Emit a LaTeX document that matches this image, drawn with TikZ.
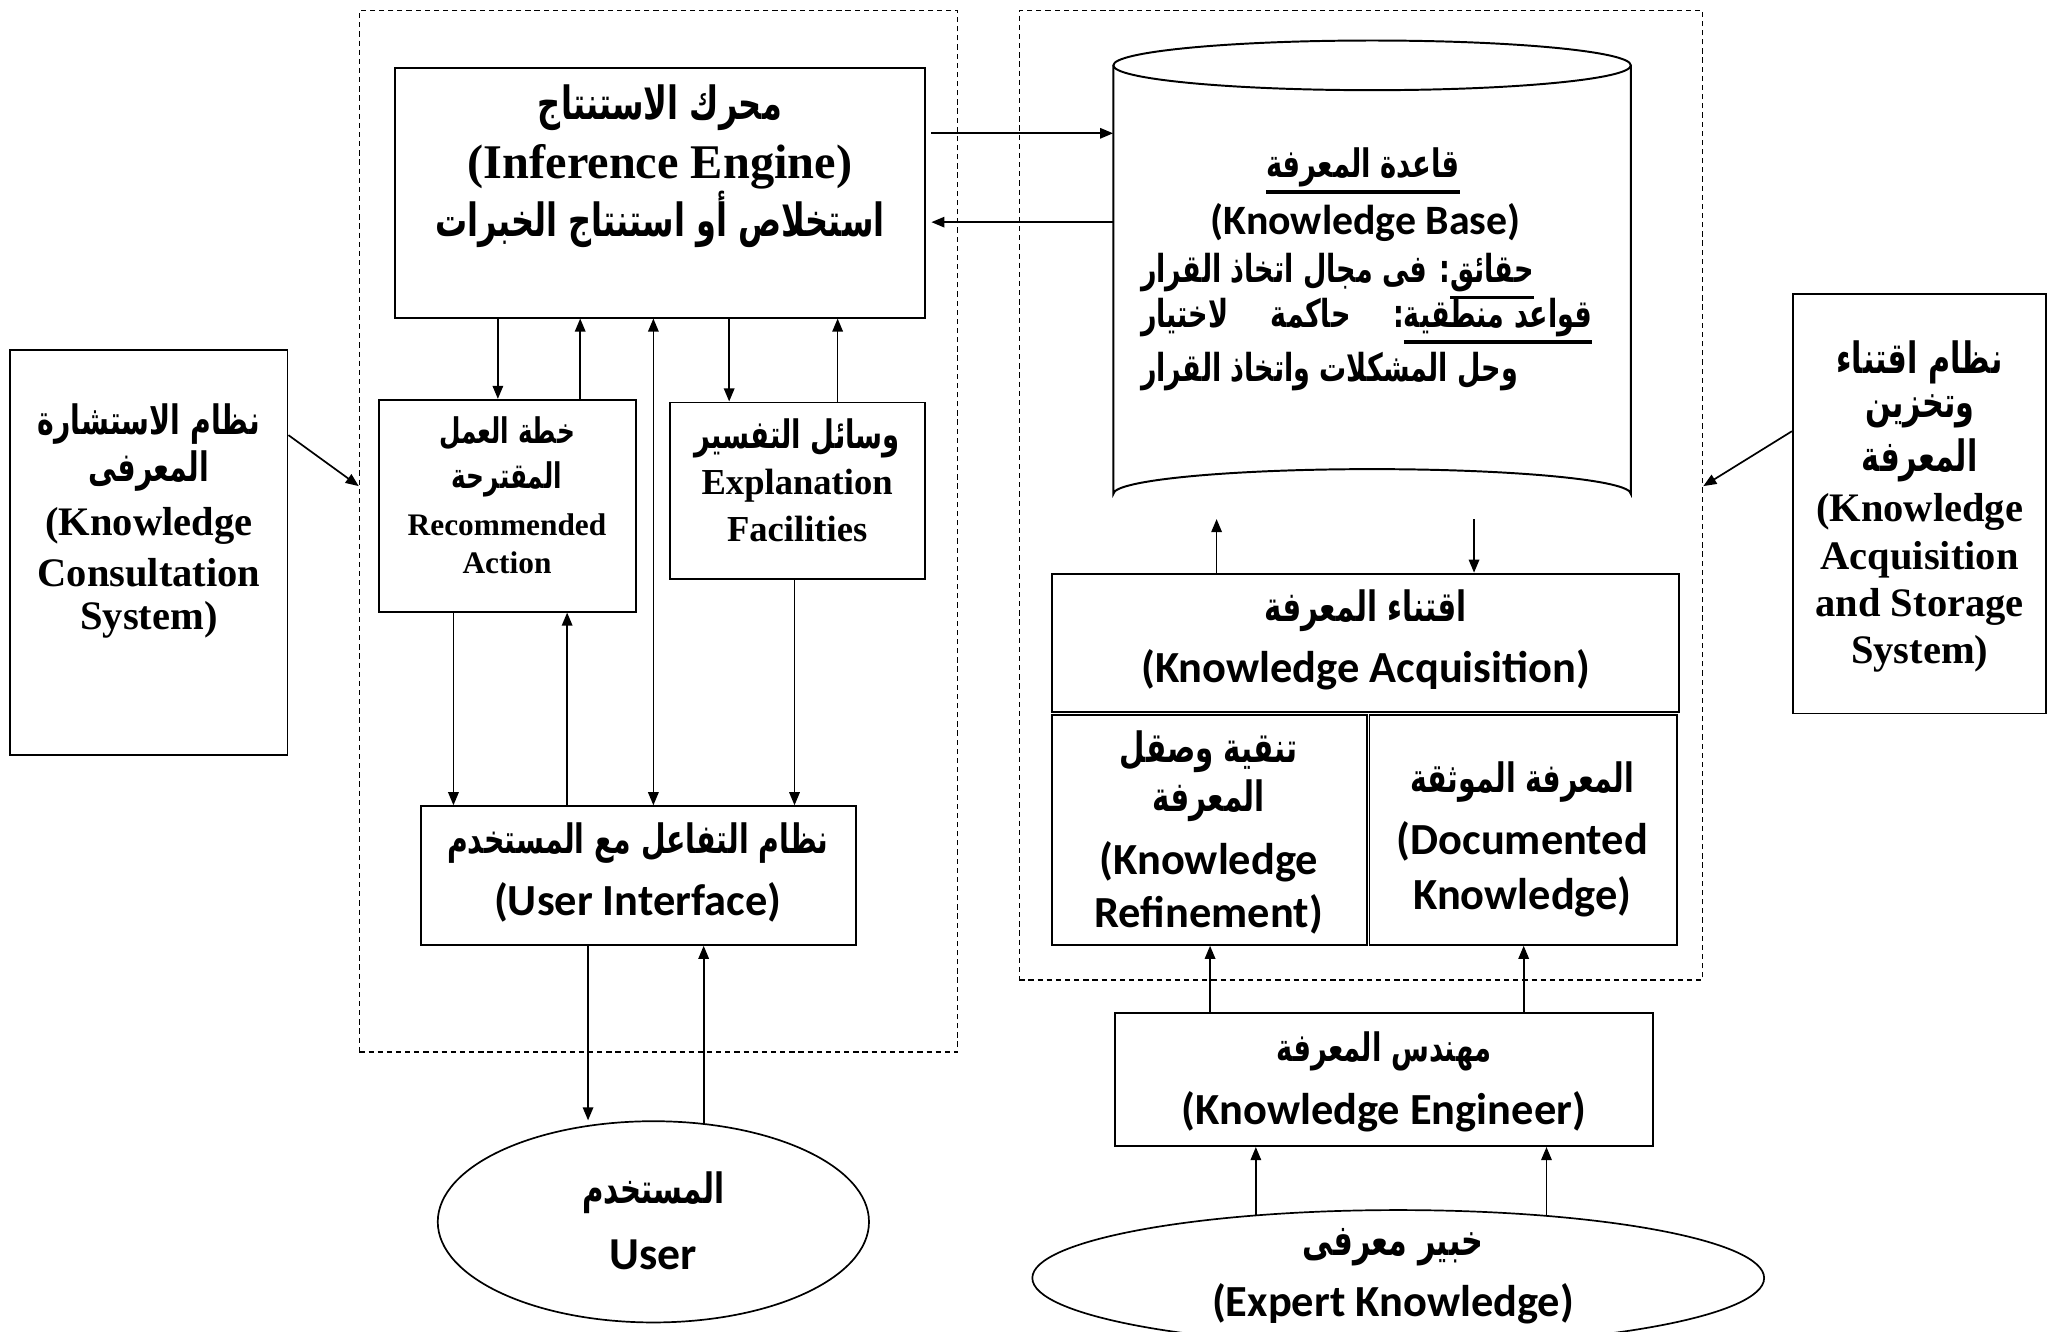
\documentclass[tikz,border=0pt]{standalone}
\usepackage{fontspec}
\setmainfont{Liberation Serif}
\newfontfamily\calfont{Carlito}
\newfontfamily\arfont[Script=Arabic, FakeStretch=0.7]{DejaVu Sans}
\TeXXeTstate=1
\usetikzlibrary{arrows.meta,fit,shapes.geometric}
% underlined Arabic words
\newcommand\arul[1]{\vtop{\hbox{\beginR#1\endR}\kern2.5bp\hrule height 2.8bp}}
\tikzset{
  box/.style={draw, line width=1.5bp, inner sep=0pt, fit={#1}},
  dbox/.style={draw, line width=0.9bp, dash pattern=on 4bp off 3bp, inner sep=0pt, fit={#1}},
  oval/.style={draw, ellipse, line width=1.3bp, inner sep=0pt},
  arr/.style={line width=1.3bp, -{Triangle[length=10bp,width=8bp]}},
  darr/.style={line width=1.3bp, {Triangle[length=10bp,width=8bp]}-{Triangle[length=10bp,width=8bp]}},
  artxt/.style={font=\arfont\bfseries\fontsize{#1bp}{#1bp}\selectfont, inner sep=0pt, yshift=-2.5bp},
  rmtxt/.style={font=\bfseries\fontsize{#1bp}{#1bp}\selectfont, inner sep=0pt, yshift=-2.5bp},
  sftxt/.style={font=\calfont\bfseries\fontsize{#1bp}{#1bp}\selectfont, inner sep=0pt, yshift=-2.5bp},
}
\begin{document}
\begin{tikzpicture}[x=1bp, y=-1bp]
\useasboundingbox (0,0) rectangle (1568,1019);
\clip (0,0) rectangle (1568,1019);
\fill[white] (0,0) rectangle (1568,1019);

% ---------- dashed system frames ----------
\node[dbox={(275,8)(733,805)}] (ld) {};
\node[dbox={(780,8)(1303,750)}] (rd) {};

% ---------- consultation side ----------
\node[box={(302,52)(708,243)}] (ie) {};
\node[artxt=35] (ie1) at (505,80) {\beginR محرك الاستنتاج\endR};
\node[rmtxt=37] (ie2) at (505,125) {(Inference Engine)};
\node[artxt=35] (ie3) at (505,165) {\beginR استخلاص أو استنتاج الخبرات\endR};

\node[box={(290,306)(487,468)}] (ra) {};
\node[artxt=27] (ra1) at (388,329) {\beginR خطة العمل\endR};
\node[artxt=27] (ra2) at (388,364) {\beginR المقترحة\endR};
\node[rmtxt=24] (ra3) at (388,399) {Recommended};
\node[rmtxt=24] (ra4) at (388,428) {Action};

\node[box={(513,308)(708,443)}] (ef) {};
\node[artxt=30] (ef1) at (610,333) {\beginR وسائل التفسير\endR};
\node[rmtxt=28] (ef2) at (610,369) {Explanation};
\node[rmtxt=28] (ef3) at (610,402) {Facilities};

\node[box={(322,617)(655,723)}] (ui) {};
\node[artxt=31] (ui1) at (488,643) {\beginR نظام التفاعل مع المستخدم\endR};
\node[sftxt=34] (ui2) at (488,688) {(User Interface)};

\node[oval, minimum width=330bp, minimum height=154bp] (user) at (500,935) {};
\node[artxt=32] (us1) at (500,910) {\beginR المستخدم\endR};
\node[sftxt=35] (us2) at (500,958) {User};

\node[box={(8,268)(220,578)}] (kcs) {};
\node[artxt=31] (kc1) at (114,322) {\beginR نظام الاستشارة\endR};
\node[artxt=31] (kc2) at (114,358) {\beginR المعرفى\endR};
\node[rmtxt=31] (kc3) at (114,400) {(Knowledge};
\node[rmtxt=31] (kc4) at (114,436) {Consultation};
\node[rmtxt=31] (kc5) at (114,472) {System)};

% ---------- acquisition side ----------
\draw[line width=1.5bp] (852,50) -- (852,378) arc[start angle=180, end angle=360, x radius=198, y radius=19]
  -- (1248,50);
\draw[line width=1.5bp] (1050,50) ellipse[x radius=198, y radius=19];
\node[inner sep=0pt, fit={(852,31)(1248,397)}] (kb) {};
\node[artxt=30] (kb1) at (1043,128) {\beginR\arul{قاعدة المعرفة}\endR};
\node[sftxt=32] (kb2) at (1045,168) {(Knowledge Base)};
\node[artxt=29.5, anchor=west] (kb3) at (873,209) {\beginR\arul{حقائق}: فى مجال اتخاذ القرار\endR};
\node[artxt=29.5, anchor=west] (kb4) at (873,243) {\hbox to 345bp{\beginR\arul{قواعد منطقية}:\hfill حاكمة\hfill لاختيار\endR}};
\node[artxt=29.5, anchor=west] (kb5) at (873,282) {\beginR وحل المشكلات واتخاذ القرار\endR};

\node[box={(805,439)(1285,545)}] (ka) {};
\node[artxt=32] (ka1) at (1045,465) {\beginR اقتناء المعرفة\endR};
\node[sftxt=34] (ka2) at (1045,510) {(Knowledge Acquisition)};

\node[box={(805,547)(1046,723)}] (kr) {};
\node[artxt=32] (kr1) at (925,573) {\beginR تنقية وصقل\endR};
\node[artxt=32] (kr2) at (925,610) {\beginR المعرفة\endR};
\node[sftxt=34] (kr3) at (925,657) {(Knowledge};
\node[sftxt=34] (kr4) at (925,697) {Refinement)};

\node[box={(1048,547)(1283,723)}] (dk) {};
\node[artxt=31] (dk1) at (1165,596) {\beginR المعرفة الموثقة\endR};
\node[sftxt=34] (dk2) at (1165,641) {(Documented};
\node[sftxt=34] (dk3) at (1165,684) {Knowledge)};

\node[box={(853,775)(1265,877)}] (ke) {};
\node[artxt=30] (ke1) at (1059,802) {\beginR مهندس المعرفة\endR};
\node[sftxt=34] (ke2) at (1059,848) {(Knowledge Engineer)};

\node[oval, minimum width=560bp, minimum height=104bp] (ex) at (1070,978) {};
\node[artxt=33] (ex1) at (1066,952) {\beginR خبير معرفى\endR};
\node[sftxt=34] (ex2) at (1066,995) {(Expert Knowledge)};

\node[box={(1372,225)(1566,546)}] (kas) {};
\node[artxt=33] (ks1) at (1469,275) {\beginR نظام اقتناء\endR};
\node[artxt=33] (ks2) at (1469,312) {\beginR وتخزين\endR};
\node[artxt=33] (ks3) at (1469,350) {\beginR المعرفة\endR};
\node[rmtxt=31] (ks4) at (1469,389) {(Knowledge};
\node[rmtxt=31] (ks5) at (1469,426) {Acquisition};
\node[rmtxt=31] (ks6) at (1469,462) {and Storage};
\node[rmtxt=31] (ks7) at (1469,498) {System)};

% ---------- connectors ----------
\draw[arr, shorten <=4bp] (ie.east |- 0,102) -- (kb.west |- 0,102);
\draw[arr, shorten >=4bp] (kb.west |- 0,170) -- (ie.east |- 0,170);

\draw[arr] (ie.south -| 381,0) -- (ra.north -| 381,0);
\draw[arr] (ra.north -| 444,0) -- (ie.south -| 444,0);
\draw[darr] (ie.south -| 500,0) -- (ui.north -| 500,0);
\draw[arr] (ie.south -| 558,0) -- (ef.north -| 558,0);
\draw[arr] (ef.north -| 641,0) -- (ie.south -| 641,0);

\draw[arr] (ra.south -| 347,0) -- (ui.north -| 347,0);
\draw[arr] (ui.north -| 434,0) -- (ra.south -| 434,0);
\draw[arr] (ef.south -| 608,0) -- (ui.north -| 608,0);

\draw[arr] (ui.south -| 450,0) -- (user.north -| 450,0);
\draw[arr] (user.63.7) -- (user.63.7 |- ui.south);

\draw[arr] (ka.north -| 931,0) -- (kb.south -| 931,0);
\draw[arr] (kb.south -| 1128,0) -- (ka.north -| 1128,0);

\draw[arr] (ke.north -| 926,0) -- (kr.south -| 926,0);
\draw[arr] (ke.north -| 1166,0) -- (dk.south -| 1166,0);

\draw[arr] (ex.156.9) -- (ex.156.9 |- ke.south);
\draw[arr] (ex.23.3) -- (ex.23.3 |- ke.south);

\draw[arr] (kcs.east |- 0,333) -- (ld.west |- 0,372);
\draw[arr] (kas.west |- 0,330) -- (rd.east |- 0,372);
\end{tikzpicture}
\end{document}
